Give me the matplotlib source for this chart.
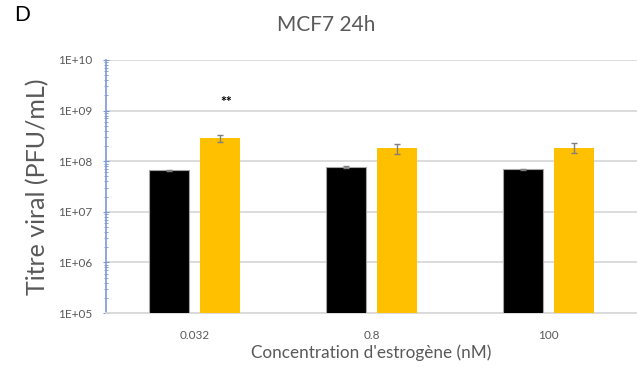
import numpy as np
import matplotlib.pyplot as plt
from matplotlib.ticker import LogLocator, FixedLocator

plt.rcParams['font.family'] = ['Lato', 'DejaVu Sans']

# data
concentrations = ["0.032", "0.8", "100"]
control = [6.6e7, 7.6e7, 6.9e7]
control_err = [2.5e6, 3e6, 2.5e6]
estrogen = [2.9e8, 1.8e8, 1.85e8]
estrogen_err = [4.5e7, 4e7, 4e7]
yticks = [1e5, 1e6, 1e7, 1e8, 1e9, 1e10]
ytick_labels = ["1E+05", "1E+06", "1E+07", "1E+08", "1E+09", "1E+10"]

grey = '#595959'
blue = '#7c9ad8'

fig = plt.figure(figsize=(6.37, 3.75), dpi=100)
ax = fig.add_axes([106/637, 62/375, 531/637, 253/375])

x = np.arange(len(concentrations))
w = 0.226
off = 0.143
ax.bar(x - off, control, w, color='black', edgecolor='#a6a6a6', linewidth=0.8,
       yerr=control_err, ecolor='#7f7f7f', capsize=2.5, error_kw=dict(elinewidth=1), zorder=3)
ax.bar(x + off, estrogen, w, color='#ffc000', yerr=estrogen_err,
       ecolor='#7f7f7f', capsize=2.5, error_kw=dict(elinewidth=1), zorder=3)

ax.set_yscale('log')
ax.set_ylim(1e5, 1e10)
ax.set_xlim(-0.5, 2.5)
ax.yaxis.set_major_locator(FixedLocator(yticks))
ax.set_yticklabels(ytick_labels)
ax.yaxis.set_minor_locator(LogLocator(base=10, subs=np.arange(2, 10)))
ax.yaxis.set_minor_formatter(plt.NullFormatter())
ax.grid(axis='y', which='major', color='#d9d9d9', linewidth=1.3, zorder=0)

ax.set_xticks(x)
ax.set_xticklabels(concentrations)
ax.tick_params(axis='x', length=0, labelsize=8.5, labelcolor=grey, pad=12)
ax.tick_params(axis='y', which='major', direction='inout', length=5, color=blue,
               labelsize=8.5, labelcolor=grey, pad=7)
ax.tick_params(axis='y', which='minor', direction='inout', length=3, color=blue)

for s in ['top', 'right']:
    ax.spines[s].set_visible(False)
ax.spines['left'].set_color(blue)
ax.spines['left'].set_linewidth(1.2)
ax.spines['bottom'].set_color('#d9d9d9')
ax.spines['bottom'].set_linewidth(1.3)

ax.set_xlabel("Concentration d'estrogène (nM)", fontsize=12.3, color=grey, labelpad=3)
ax.set_ylabel("Titre viral (PFU/mL)", fontsize=18, color=grey, labelpad=7)

ax.text(0.18, 1.45e9, "**", ha='center', va='center', fontsize=10, fontweight='bold')

fig.text(326/637, 1 - 25/375, "MCF7 24h", ha='center', va='center', fontsize=15, color=grey)
fig.text(14/637, 1 - 15/375, "D", ha='left', va='center', fontsize=15, color='black')

fig.savefig("out.png", dpi=100)
